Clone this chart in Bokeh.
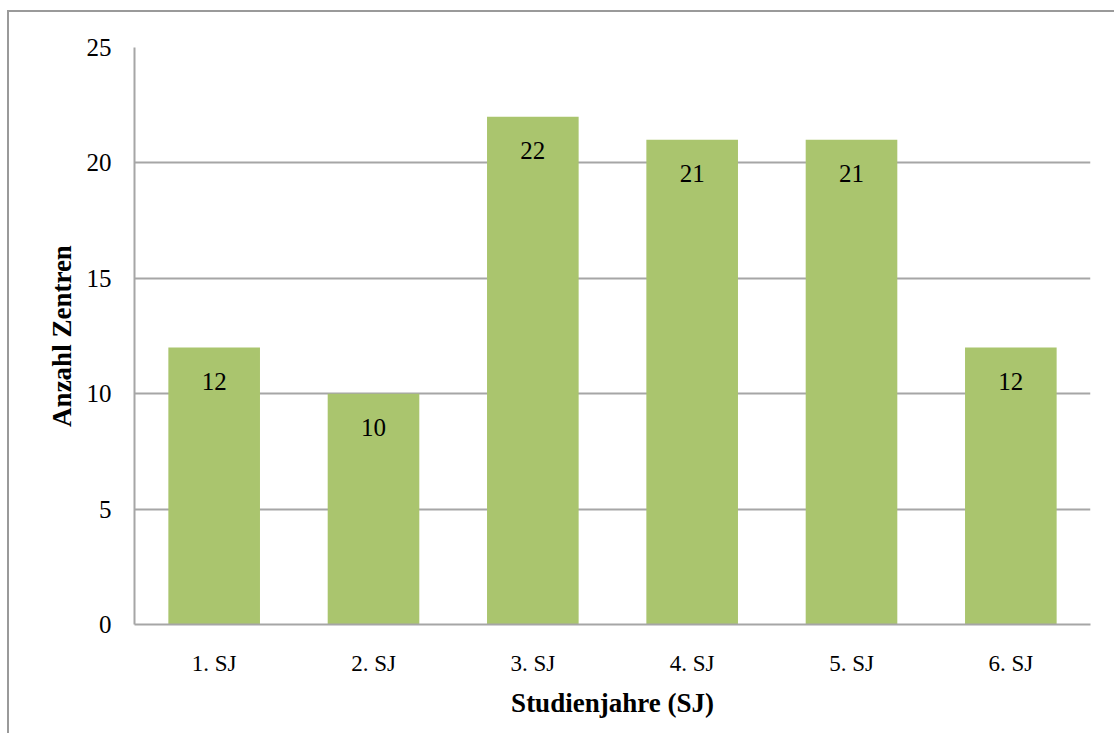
from bokeh.plotting import figure
from bokeh.models import ColumnDataSource, LabelSet, FixedTicker
from bokeh.embed import file_html
from bokeh.resources import INLINE

# Number of centres per year of study
years = ["1. SJ", "2. SJ", "3. SJ", "4. SJ", "5. SJ", "6. SJ"]
counts = [12, 10, 22, 21, 21, 12]
y_ticks = [0, 5, 10, 15, 20, 25]

FONT = "Liberation Serif"
GRID = "#a6a6a6"
BAR = "#aac56e"

src = ColumnDataSource(data=dict(year=years, count=counts,
                                 label=[str(c) for c in counts]))

p = figure(x_range=years, y_range=(0, 25), width=1107, height=723,
           output_backend="svg", toolbar_location=None,
           min_border_left=125, min_border_right=26,
           min_border_top=35, min_border_bottom=111)
# chart border: only top and left edges fall inside the page
p.styles = {"margin-left": "7px", "margin-top": "10px",
            "border-left": "2px solid #9a9a9a",
            "border-top": "2px solid #9a9a9a"}
p.x_range.range_padding = 0
p.outline_line_color = None
p.background_fill_color = "white"
p.border_fill_color = "white"

p.vbar(x="year", top="count", width=0.575, source=src,
       fill_color=BAR, line_color=None)

labels = LabelSet(x="year", y="count", text="label", source=src,
                  y_offset=-34, text_align="center", text_baseline="middle",
                  text_font=FONT, text_font_size="25px", text_color="black")
p.add_layout(labels)

# axes
p.yaxis.ticker = FixedTicker(ticks=y_ticks)
p.yaxis.axis_label = "Anzahl Zentren"
p.xaxis.axis_label = "Studienjahre (SJ)"
for ax in (p.xaxis[0], p.yaxis[0]):
    ax.axis_line_color = GRID
    ax.axis_line_width = 2
    ax.major_tick_line_color = None
    ax.minor_tick_line_color = None
    ax.major_label_text_font = FONT
    ax.major_label_text_color = "black"
    ax.axis_label_text_font = FONT
    ax.axis_label_text_font_style = "bold"
    ax.axis_label_text_color = "black"
    ax.axis_label_text_font_size = "27px"
p.yaxis.major_label_text_font_size = "25px"
p.xaxis.major_label_text_font_size = "23px"
p.yaxis.major_label_standoff = 17
p.yaxis.axis_label_standoff = 7
p.xaxis.major_label_standoff = 20
p.xaxis.axis_label_standoff = 9

p.xgrid.grid_line_color = None
p.ygrid.grid_line_color = GRID
p.ygrid.grid_line_width = 2

open("out.html", "w").write(file_html(p, INLINE))
